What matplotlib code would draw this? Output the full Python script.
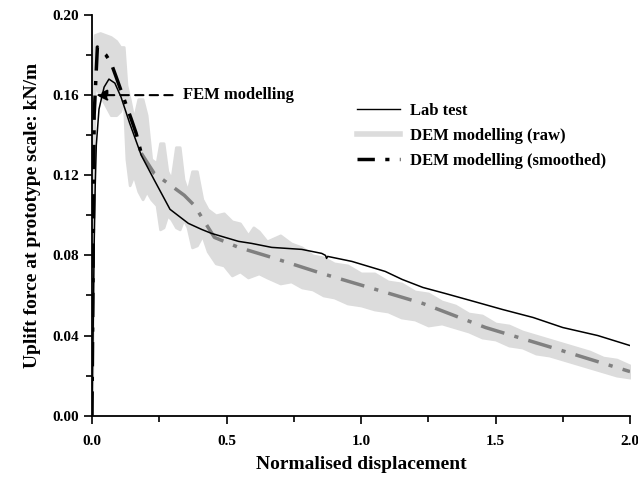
import matplotlib
matplotlib.use("Agg")
import matplotlib.pyplot as plt
from matplotlib.lines import Line2D

plt.rcParams['font.family'] = ['Liberation Serif', 'DejaVu Serif']
plt.rcParams['font.weight'] = 'bold'

# Lab test
lab_x = [0.0, 0.004, 0.008, 0.012, 0.016, 0.026, 0.045, 0.063, 0.085, 0.108, 0.14, 0.183, 0.23,
         0.29, 0.358, 0.407, 0.444, 0.545, 0.593, 0.668, 0.78, 0.854, 0.868, 0.872, 0.876,
         0.966, 1.09, 1.153, 1.23, 1.313, 1.42, 1.526, 1.64, 1.75, 1.88, 2.0]
lab_y = [0.0, 0.04, 0.085, 0.115, 0.135, 0.153, 0.164, 0.168, 0.166, 0.159, 0.146, 0.130, 0.118,
         0.103, 0.096, 0.093, 0.091, 0.087, 0.086, 0.084, 0.083, 0.081, 0.080, 0.0785, 0.0795,
         0.077, 0.072, 0.068, 0.064, 0.061, 0.057, 0.053, 0.049, 0.044, 0.040, 0.035]

# DEM modelling (raw): upper and lower edges of the noisy band
raw_x = [0.000, 0.004, 0.010, 0.030, 0.050, 0.070, 0.090, 0.105, 0.118, 0.128,
         0.140, 0.155, 0.172, 0.188, 0.203, 0.220, 0.240, 0.253, 0.266, 0.280,
         0.295, 0.312, 0.326, 0.340, 0.355, 0.372, 0.390, 0.410, 0.430, 0.460,
         0.490, 0.520, 0.550, 0.580, 0.600, 0.620, 0.650, 0.700, 0.740, 0.780,
         0.820, 0.860, 0.900, 0.950, 1.000, 1.050, 1.100, 1.150, 1.200, 1.250,
         1.300, 1.350, 1.400, 1.450, 1.500, 1.550, 1.600, 1.650, 1.700, 1.750,
         1.800, 1.850, 1.900, 1.950, 2.000]
raw_upper = [0.000, 0.175, 0.190, 0.191, 0.190, 0.189, 0.187, 0.184, 0.184, 0.165,
             0.158, 0.148, 0.158, 0.158, 0.150, 0.128, 0.126, 0.136, 0.136, 0.122,
             0.118, 0.134, 0.134, 0.118, 0.112, 0.122, 0.122, 0.108, 0.103, 0.100,
             0.101, 0.097, 0.096, 0.090, 0.094, 0.092, 0.087, 0.090, 0.086, 0.084,
             0.080, 0.079, 0.076, 0.075, 0.071, 0.071, 0.067, 0.066, 0.062, 0.061,
             0.057, 0.055, 0.051, 0.050, 0.046, 0.045, 0.042, 0.040, 0.038, 0.036,
             0.034, 0.032, 0.029, 0.028, 0.025]
raw_lower = [0.000, 0.100, 0.165, 0.160, 0.155, 0.150, 0.150, 0.152, 0.158, 0.128,
             0.115, 0.120, 0.112, 0.108, 0.112, 0.108, 0.105, 0.093, 0.094, 0.100,
             0.098, 0.094, 0.093, 0.098, 0.094, 0.084, 0.085, 0.090, 0.082, 0.076,
             0.075, 0.070, 0.072, 0.069, 0.070, 0.071, 0.069, 0.066, 0.067, 0.064,
             0.063, 0.060, 0.059, 0.056, 0.055, 0.053, 0.052, 0.049, 0.048, 0.045,
             0.046, 0.044, 0.042, 0.039, 0.038, 0.035, 0.034, 0.031, 0.030, 0.028,
             0.026, 0.024, 0.022, 0.020, 0.019]

# DEM modelling (smoothed)
sm_x = [0.0, 0.008, 0.02, 0.052, 0.071, 0.09, 0.146, 0.164, 0.183, 0.231, 0.343, 0.38, 0.455,
        0.545, 0.668, 0.854, 1.03, 1.23, 1.463, 1.71, 2.0]
sm_y = [0.0, 0.15, 0.184, 0.180, 0.176, 0.169, 0.148, 0.141, 0.131, 0.121, 0.110, 0.105, 0.089,
        0.084, 0.079, 0.071, 0.064, 0.056, 0.044, 0.034, 0.022]
sm_split = 0.23

# FEM modelling point
fem_x = 0.005
fem_y = 0.16

x_ticks = [0.0, 0.5, 1.0, 1.5, 2.0]
y_ticks = [0.00, 0.04, 0.08, 0.12, 0.16, 0.20]

fig = plt.figure(figsize=(6.38, 4.79), dpi=100)
ax = fig.add_axes([0.1442, 0.1322, 0.8433, 0.8365])

ax.fill_between(raw_x, raw_lower, raw_upper, color='#dcdcdc', lw=2, edgecolor='#dcdcdc',
                zorder=1)

dash = (0, (7, 3, 1.2, 3))
early_x = [x for x in sm_x if x <= sm_split]
early_y = sm_y[:len(early_x)]
late_x = sm_x[len(early_x) - 1:]
late_y = sm_y[len(early_x) - 1:]
ax.plot(late_x, late_y, color='#808080', lw=2.5, linestyle=dash, zorder=2)
ax.plot(early_x, early_y, color='black', lw=2.5, linestyle=dash, zorder=3)

ax.plot(lab_x, lab_y, color='black', lw=1.1, zorder=4)

ax.annotate('', xy=(fem_x, fem_y), xytext=(0.31, fem_y),
            arrowprops=dict(arrowstyle='-|>', linestyle=(0, (4, 3)), color='black', lw=1.5,
                            mutation_scale=16), zorder=5)
ax.text(0.34, fem_y, 'FEM modelling', fontsize=12, fontweight='bold', va='center', ha='left')

ax.set_xlim(0, 2.0)
ax.set_ylim(0, 0.20)
ax.set_xticks(x_ticks)
ax.set_xticklabels([f'{v:.1f}' for v in x_ticks])
ax.set_yticks(y_ticks)
ax.set_yticklabels([f'{v:.2f}' for v in y_ticks])
ax.set_xticks([0.25, 0.75, 1.25, 1.75], minor=True)
ax.set_yticks([0.02, 0.06, 0.10, 0.14, 0.18], minor=True)
ax.tick_params(which='major', direction='out', length=6, width=1.2, labelsize=11)
ax.tick_params(axis='x', which='major', pad=8)
ax.tick_params(which='minor', direction='out', length=4, width=1.2)
for s in ['top', 'right']:
    ax.spines[s].set_visible(False)
for s in ['left', 'bottom']:
    ax.spines[s].set_linewidth(1.3)

ax.set_xlabel('Normalised displacement', fontsize=14, fontweight='bold', labelpad=6)
ax.set_ylabel('Uplift force at prototype scale: kN/m', fontsize=14, fontweight='bold', labelpad=8)

handles = [Line2D([], [], color='black', lw=1.0),
           Line2D([], [], color='#dcdcdc', lw=4),
           Line2D([], [], color='black', lw=2.5, linestyle=(0, (5, 3, 1.2, 3)))]
labels = ['Lab test', 'DEM modelling (raw)', 'DEM modelling (smoothed)']
fig.legend(handles, labels, loc='upper left', bbox_to_anchor=(357 / 638, 1 - 103 / 479),
           frameon=False, fontsize=12, handlelength=2.6, handletextpad=0.6, labelspacing=0.55,
           borderaxespad=0, borderpad=0)

fig.savefig('out.png', dpi=100)
